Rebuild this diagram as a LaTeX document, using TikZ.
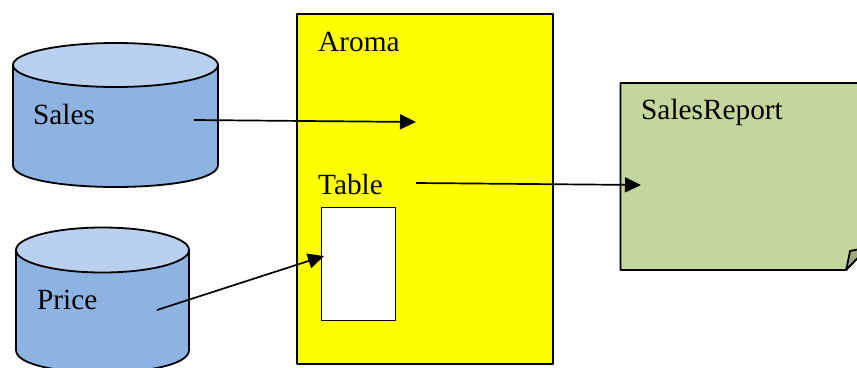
\documentclass[tikz,border=0pt]{standalone}
\usepackage{fontspec}
\setmainfont{Liberation Serif}
\usetikzlibrary{arrows.meta}
\definecolor{cylbody}{RGB}{141,179,226}
\definecolor{cyltop}{RGB}{185,208,238}
\definecolor{notegreen}{RGB}{195,214,155}
\definecolor{notefold}{RGB}{156,171,124}
\definecolor{boxyellow}{RGB}{255,255,0}
\tikzset{
  x=1pt,y=-1pt,
  outline/.style={draw=black,line width=1.8pt,line join=round},
  lbl/.style={font=\fontsize{29.3}{32}\selectfont,anchor=base west,inner sep=0pt,text=black},
  conn/.style={draw=black,line width=1.7pt,-{Triangle[length=16pt,width=15pt]}},
}
\newcommand{\cyl}[5]{% x1 x2 ytopcenter ry ysidebottom
  \path[outline,fill=cylbody] (#1,#3) -- (#1,#5)
    .. controls (#1,#5+1.333*#4) and (#2,#5+1.333*#4) .. (#2,#5) -- (#2,#3) -- cycle;
  \path[outline,fill=cyltop] ({(#1+#2)/2},#3) ellipse [x radius={(#2-#1)/2},y radius=#4];
}
\begin{document}
\begin{tikzpicture}
\useasboundingbox (0,0) rectangle (857,367);
\clip (0,0) rectangle (857,367);
\cyl{13}{218}{65}{22}{165}
\cyl{16}{189}{250}{22.5}{350}
\path[outline,fill=boxyellow] (297,14) rectangle (553,364);
\path[draw=black,line width=1pt,fill=white] (321,207.5) rectangle (395,320.5);
\path[outline,fill=notegreen] (620.5,83) -- (870,83) -- (870,245) -- (846,270) -- (620.5,270) -- cycle;
\path[outline,fill=notefold] (846,270) .. controls (848,262) and (849,256) .. (850,251) -- (870,247) -- (870,245) -- cycle;
\node[lbl] (sales) at (33,124) {Sales};
\node[lbl] (price) at (37,309) {Price};
\node[lbl] (aroma) at (318,51) {Aroma};
\node[lbl] (table) at (318,194) {Table};
\node[lbl] (report) at (641,119) {SalesReport};
\coordinate (s1) at (194,120);
\coordinate (s2) at (416,122);
\coordinate (p1) at (157,310);
\coordinate (p2) at (324,256);
\coordinate (t1) at (416,183);
\coordinate (t2) at (641,185);
\draw[conn] (s1) -- (s2);
\draw[conn] (p1) -- (p2);
\draw[conn] (t1) -- (t2);
\end{tikzpicture}
\end{document}
